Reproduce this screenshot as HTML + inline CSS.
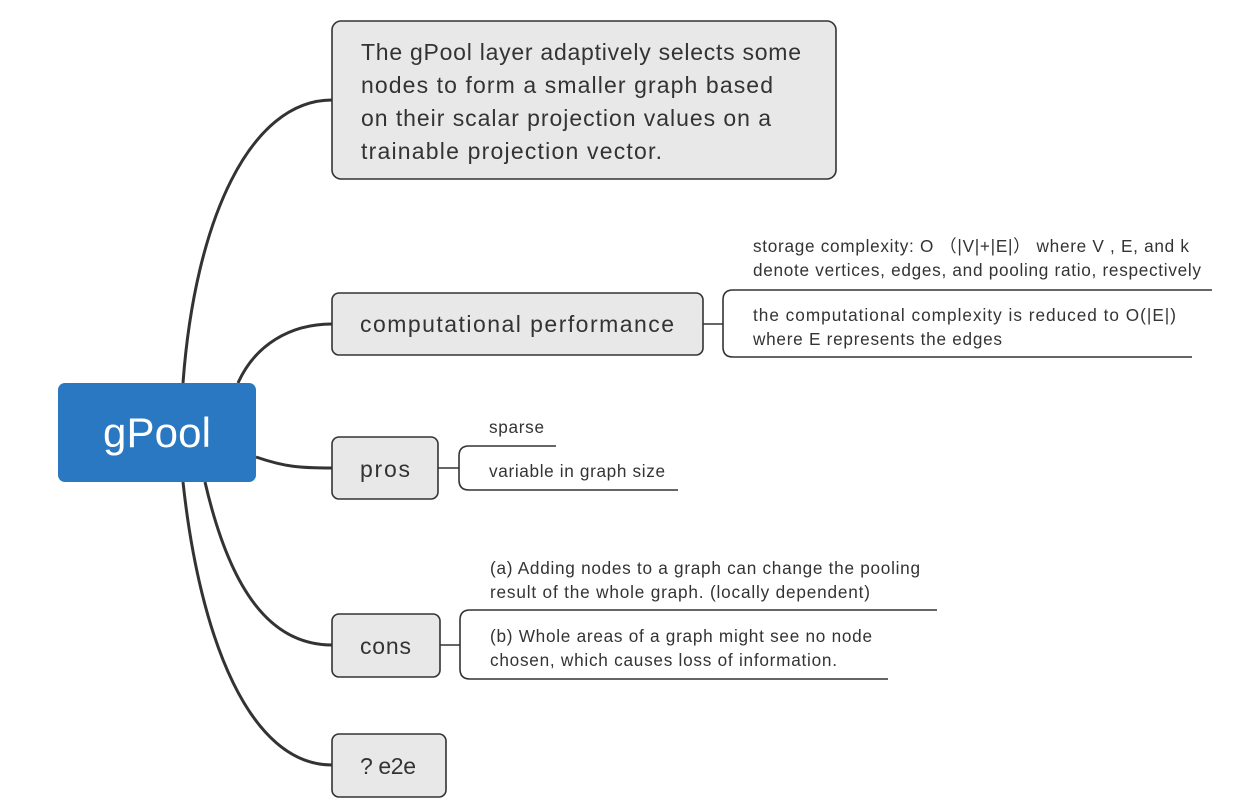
<!DOCTYPE html>
<html><head><meta charset="utf-8"><style>
html,body{margin:0;padding:0;background:#fff;width:1234px;height:812px;overflow:hidden}
svg text{font-family:"Liberation Sans",sans-serif;fill:#333}
</style></head><body>
<svg width="1234" height="812" viewBox="0 0 1234 812" xmlns="http://www.w3.org/2000/svg">
<g fill="none" stroke="#333" stroke-width="3">
<path d="M183,383 C195,220 250,100 332,100"/>
<path d="M238,383 C255,345 290,324 332,324"/>
<path d="M256,457 C285,467 300,468 332,468"/>
<path d="M205,482 C230,590 270,645 332,645"/>
<path d="M183,482 C200,640 250,765 332,765"/>
</g>
<g fill="none" stroke="#333" stroke-width="1.6">
<path d="M703,324 H723"/>
<path d="M1212,290 H733 Q723,290 723,300 V347 Q723,357 733,357 H1192"/>
<path d="M438,468 H459"/>
<path d="M556,446 H469 Q459,446 459,456 V480 Q459,490 469,490 H678"/>
<path d="M440,645 H460"/>
<path d="M937,610 H470 Q460,610 460,620 V669 Q460,679 470,679 H888"/>
</g>
<rect x="58" y="383" width="198" height="99" rx="7" fill="#2a78c2"/>
<text x="103" y="447" font-size="42" textLength="108" style="fill:#fff">gPool</text>
<g font-size="23">
<g fill="#e8e8e8" stroke="#333" stroke-width="1.6">
<rect x="332" y="21" width="504" height="158" rx="9"/>
<rect x="332" y="293" width="371" height="62" rx="7"/>
<rect x="332" y="437" width="106" height="62" rx="7"/>
<rect x="332" y="614" width="108" height="63" rx="7"/>
<rect x="332" y="734" width="114" height="63" rx="7"/>
</g>
<text x="361" y="60" textLength="440">The gPool layer adaptively selects some</text>
<text x="361" y="93" textLength="412">nodes to form a smaller graph based</text>
<text x="361" y="126" textLength="410">on their scalar projection values on a</text>
<text x="361" y="159" textLength="301">trainable projection vector.</text>
<text x="360" y="332" textLength="314">computational performance</text>
<text x="360" y="477" textLength="50">pros</text>
<text x="360" y="654" textLength="51">cons</text>
<text x="360" y="774" textLength="56">? e2e</text>
</g>
<g font-size="17.2">
<text x="753" y="252" textLength="436">storage complexity: O （|V|+|E|） where V , E, and k</text>
<text x="753" y="276" textLength="448">denote vertices, edges, and pooling ratio, respectively</text>
<text x="753" y="321" textLength="423">the computational complexity is reduced to O(|E|)</text>
<text x="753" y="345" textLength="249">where E represents the edges</text>
<text x="489" y="433" textLength="55">sparse</text>
<text x="489" y="477" textLength="176">variable in graph size</text>
<text x="490" y="574" textLength="430">(a) Adding nodes to a graph can change the pooling</text>
<text x="490" y="598" textLength="380">result of the whole graph. (locally dependent)</text>
<text x="490" y="642" textLength="382">(b) Whole areas of a graph might see no node</text>
<text x="490" y="666" textLength="347">chosen, which causes loss of information.</text>
</g>
</svg>
</body></html>
